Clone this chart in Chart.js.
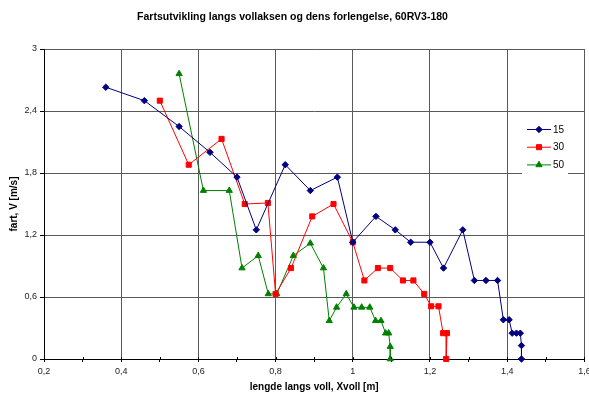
<!DOCTYPE html>
<html>
<head>
<meta charset="utf-8">
<script src="https://cdn.jsdelivr.net/npm/chart.js@4/dist/chart.umd.min.js"></script>
<style>
  html, body { margin: 0; padding: 0; background: #fff; }
  #wrap { width: 589px; height: 396px; position: relative; }
</style>
</head>
<body>
<div id="wrap"><canvas id="c" width="589" height="396"></canvas></div>
<script>
// ---- data ----
const seriesLabels = ['15', '30', '50'];

const x15 = [0.36, 0.46, 0.55, 0.63, 0.70, 0.75, 0.825, 0.89, 0.96, 1.00, 1.06, 1.11, 1.15, 1.20, 1.235, 1.285, 1.315, 1.345, 1.375, 1.39, 1.405, 1.413, 1.424, 1.434, 1.437, 1.437];
const y15 = [2.63, 2.50, 2.25, 2.00, 1.76, 1.25, 1.88, 1.63, 1.76, 1.13, 1.38, 1.25, 1.13, 1.13, 0.88, 1.25, 0.76, 0.76, 0.76, 0.38, 0.38, 0.25, 0.25, 0.25, 0.13, 0];

const x30 = [0.50, 0.575, 0.66, 0.72, 0.78, 0.80, 0.84, 0.895, 0.95, 1.00, 1.03, 1.065, 1.097, 1.13, 1.157, 1.185, 1.203, 1.222, 1.234, 1.244, 1.242];
const y30 = [2.50, 1.88, 2.13, 1.50, 1.51, 0.63, 0.88, 1.38, 1.50, 1.13, 0.76, 0.88, 0.88, 0.76, 0.76, 0.63, 0.51, 0.51, 0.25, 0.25, 0];

const x50 = [0.55, 0.613, 0.68, 0.713, 0.755, 0.781, 0.803, 0.846, 0.89, 0.924, 0.939, 0.958, 0.983, 1.003, 1.023, 1.044, 1.059, 1.073, 1.085, 1.093, 1.097, 1.097];
const y50 = [2.76, 1.63, 1.63, 0.88, 1.00, 0.63, 0.63, 1.00, 1.12, 0.88, 0.37, 0.50, 0.63, 0.50, 0.50, 0.50, 0.37, 0.37, 0.25, 0.25, 0.12, 0];

const xTickLabels = ['0,2', '0,4', '0,6', '0,8', '1', '1,2', '1,4', '1,6'];
const yTickLabels = ['0', '0,6', '1,2', '1,8', '2,4', '3'];

const titleText = 'Fartsutvikling langs vollaksen og dens forlengelse, 60RV3-180';
const xTitle = 'lengde langs voll, Xvoll [m]';
const yTitle = 'fart, V [m/s]';

// ---- build ----
const FONT = "'Liberation Sans', Arial, sans-serif";
const pts = (xs, ys) => xs.map((x, i) => ({ x: x, y: ys[i] }));

const styles = [
  { color: '#000080', style: 'rectRot', r: 3.2 },
  { color: '#FF0000', style: 'rect', r: 3.6 },
  { color: '#008000', style: 'triangle', r: 3.6 }
];
const xs = [x15, x30, x50], ys = [y15, y30, y50];

const datasets = seriesLabels.map((lab, i) => ({
  label: lab,
  data: pts(xs[i], ys[i]),
  showLine: true,
  borderColor: styles[i].color,
  backgroundColor: styles[i].color,
  borderWidth: 1,
  pointStyle: styles[i].style,
  pointRadius: styles[i].r,
  pointHoverRadius: styles[i].r,
  pointBorderWidth: 1,
  clip: false,
  tension: 0
}));

const GRID = '#5a5a5a';

const extras = {
  id: 'extras',
  afterDraw(chart) {
    const ctx = chart.ctx;
    const xs_ = chart.scales.x, ca = chart.chartArea;
    // inner half of crossing x-axis tick marks
    ctx.save();
    ctx.strokeStyle = '#000';
    ctx.lineWidth = 1;
    xs_.ticks.forEach(t => {
      const px = Math.round(xs_.getPixelForValue(t.value)) + 0.5;
      ctx.beginPath();
      ctx.moveTo(px, ca.bottom - 2);
      ctx.lineTo(px, ca.bottom);
      ctx.stroke();
    });
    // legend
    const bx = 522, by = 116, bw = 46, bh = 62;
    ctx.fillStyle = '#fff';
    ctx.fillRect(bx, by, bw, bh);
    chart.data.datasets.forEach((ds, i) => {
      const cy = 129.5 + i * 17.7;
      ctx.strokeStyle = ds.borderColor;
      ctx.lineWidth = 1;
      ctx.beginPath();
      ctx.moveTo(527, cy);
      ctx.lineTo(551, cy);
      ctx.stroke();
      ctx.fillStyle = ds.backgroundColor;
      Chart.helpers.drawPoint(ctx, { pointStyle: ds.pointStyle, radius: ds.pointRadius, rotation: 0, borderWidth: 1 }, 539, cy);
      ctx.fillStyle = '#000';
      ctx.font = '10px ' + FONT;
      ctx.textBaseline = 'middle';
      ctx.textAlign = 'left';
      ctx.fillText(ds.label, 553, cy + 0.5);
    });
    ctx.restore();
  }
};

new Chart(document.getElementById('c'), {
  type: 'scatter',
  data: { datasets },
  plugins: [extras],
  options: {
    responsive: false,
    animation: false,
    devicePixelRatio: 1,
    layout: { padding: { left: 0, right: 4, top: 0, bottom: 0 } },
    plugins: {
      legend: { display: false },
      tooltip: { enabled: false },
      title: {
        display: true,
        text: titleText,
        color: '#000',
        font: { family: FONT, size: 10.5, weight: 'bold', lineHeight: 1.2 },
        padding: { top: 11, bottom: 25.4 }
      }
    },
    scales: {
      x: {
        type: 'linear',
        min: 0.2,
        max: 1.6,
        afterFit(s) { s.height = 37; s.paddingRight = 0; s.paddingLeft = 0; },
        ticks: {
          stepSize: 0.1,
          autoSkip: false,
          maxRotation: 0,
          padding: 4,
          color: '#222',
          font: { family: FONT, size: 9 },
          callback: (v, i) => (i % 2 === 0 ? xTickLabels[i / 2] : '')
        },
        grid: {
          color: c => (c.index % 2 === 0 ? GRID : 'rgba(0,0,0,0)'),
          tickColor: '#000',
          tickLength: 3,
          lineWidth: 1
        },
        border: { display: true, color: '#000', width: 1 },
        title: {
          display: true,
          text: xTitle,
          color: '#000',
          font: { family: FONT, size: 10, weight: 'bold' },
          padding: { top: 0, bottom: 3 }
        }
      },
      y: {
        type: 'linear',
        min: 0,
        max: 3,
        afterFit(s) { s.width = 44; },
        ticks: {
          stepSize: 0.6,
          padding: 3,
          color: '#222',
          font: { family: FONT, size: 9 },
          callback: (v, i) => yTickLabels[i]
        },
        grid: {
          color: GRID,
          tickColor: '#000',
          tickLength: 4,
          lineWidth: 1
        },
        border: { display: true, color: '#000', width: 1 },
        title: {
          display: true,
          text: yTitle,
          color: '#000',
          font: { family: FONT, size: 10, weight: 'bold' },
          padding: { top: 8, bottom: 0 }
        }
      }
    }
  }
});
</script>
</body>
</html>
